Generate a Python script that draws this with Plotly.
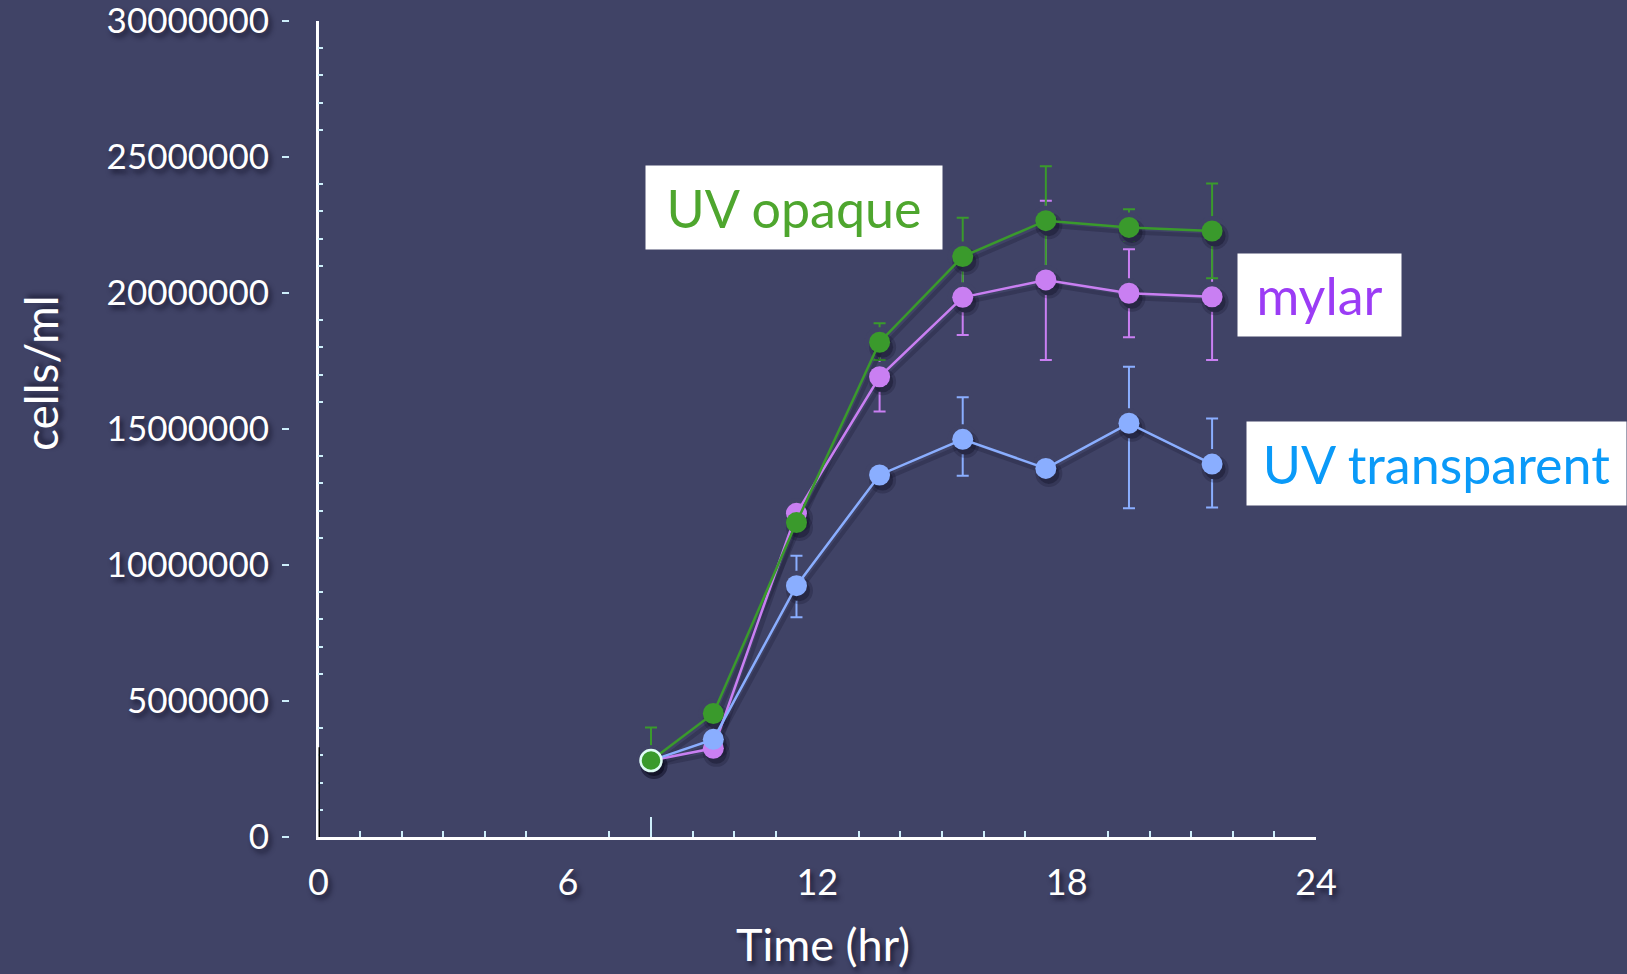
import plotly.graph_objects as go

# ---- data ----
time_hr = [8, 9.5, 11.5, 13.5, 15.5, 17.5, 19.5, 21.5]

uv_opaque = [2.81e6, 4.54e6, 11.56e6, 18.19e6, 21.34e6, 22.66e6, 22.41e6, 22.28e6]
uv_opaque_err_plus = [1.22e6, 0, 0, 0.70e6, 1.43e6, 2.0e6, 0.67e6, 1.75e6]
uv_opaque_err_minus = [0, 0, 0, 0.65e6, 1.43e6, 2.0e6, 0.50e6, 1.74e6]

mylar = [2.81e6, 3.26e6, 11.90e6, 16.92e6, 19.84e6, 20.48e6, 19.99e6, 19.86e6]
mylar_err_plus = [0, 0, 0, 1.28e6, 1.38e6, 2.91e6, 1.62e6, 2.32e6]
mylar_err_minus = [0, 0, 0, 1.28e6, 1.38e6, 2.94e6, 1.62e6, 2.32e6]

uv_transparent = [2.81e6, 3.59e6, 9.24e6, 13.31e6, 14.62e6, 13.55e6, 15.21e6, 13.71e6]
uv_transparent_err_plus = [0, 0, 1.10e6, 0, 1.55e6, 0, 2.08e6, 1.68e6]
uv_transparent_err_minus = [0, 0, 1.16e6, 0, 1.34e6, 0, 3.12e6, 1.60e6]

x_major_ticks = [0, 6, 12, 18, 24]
x_minor_ticks = [1, 2, 3, 4, 5, 7, 9, 10, 11, 13, 14, 15, 16, 17, 19, 20, 21, 22, 23]
x_long_tick = [8]
y_major_ticks = [0, 5e6, 10e6, 15e6, 20e6, 25e6, 30e6]
y_major_labels = ["0", "5000000", "10000000", "15000000", "20000000", "25000000", "30000000"]
y_minor_ticks = [v * 1e6 for v in range(1, 30) if v % 5 != 0]
y_black_segment_top = 3.3e6

X_RANGE = [0, 24]
Y_RANGE = [0, 30e6]

# ---- style ----
BG = "#404366"
GREEN = "#3a9a2c"
PURPLE = "#c97ff2"
BLUE = "#8aaeff"
TICK = "#cdeefa"
FONT = "Lato"
TEXT_SHADOW = "3px 4px 5px rgba(18,18,40,0.75)"

W, H = 1627, 974
ML, MR, MT, MB = 0, 311, 21, 137
PW = W - ML - MR
PH = H - MT - MB
AX_LEFT = 318.5
PLOT_W = W - MR - AX_LEFT

# drop shadow offset in pixels (right, down)
SH_DX, SH_DY = 3, 5
dx_u = SH_DX * (X_RANGE[1] - X_RANGE[0]) / PLOT_W
dy_u = SH_DY * (Y_RANGE[1] - Y_RANGE[0]) / PH


def px(xp):
    return (xp - ML) / PW


def py(yp):
    return (H - MB - yp) / PH


series = [
    ("mylar", mylar, mylar_err_plus, mylar_err_minus, PURPLE, None),
    ("UV transparent", uv_transparent, uv_transparent_err_plus, uv_transparent_err_minus, BLUE, None),
    ("UV opaque", uv_opaque, uv_opaque_err_plus, uv_opaque_err_minus, GREEN, "#dffcf5"),
]

fig = go.Figure()

# base subplot (x, y): error bars, then background-coloured halos that open a gap round each dot
for name, y, ep, em, color, _ in series:
    fig.add_trace(go.Scatter(
        x=time_hr, y=y, mode="markers", xaxis="x", yaxis="y",
        marker=dict(size=4, color="rgba(0,0,0,0)"),
        error_y=dict(type="data", symmetric=False, array=ep, arrayminus=em,
                     color=color, thickness=2, width=6),
        showlegend=False, hoverinfo="skip",
    ))
for name, y, ep, em, color, _ in series:
    fig.add_trace(go.Scatter(
        x=time_hr, y=y, mode="markers", xaxis="x", yaxis="y",
        marker=dict(size=30, color=BG),
        showlegend=False, hoverinfo="skip",
    ))

# shadow subplot (x2, y2): same data on axes shifted by a few pixels
for name, y, ep, em, color, _ in series:
    fig.add_trace(go.Scatter(
        x=time_hr, y=y, mode="lines+markers", xaxis="x2", yaxis="y2",
        line=dict(color="rgba(15,15,35,0.22)", width=4),
        marker=dict(size=27, color="rgba(15,15,35,0.22)"),
        showlegend=False, hoverinfo="skip",
    ))
    fig.add_trace(go.Scatter(
        x=time_hr, y=y, mode="markers", xaxis="x2", yaxis="y2",
        marker=dict(size=21, color="rgba(15,15,35,0.35)"),
        showlegend=False, hoverinfo="skip",
    ))

# main subplot (x3, y3): lines and dots
for name, y, ep, em, color, outline in series:
    line_colors = ["rgba(0,0,0,0)"] * len(y)
    line_widths = [0] * len(y)
    if outline:
        line_colors[0] = outline
        line_widths[0] = 2.5
    fig.add_trace(go.Scatter(
        x=time_hr, y=y, name=name, mode="lines+markers", xaxis="x3", yaxis="y3",
        line=dict(color=color, width=2.5),
        marker=dict(size=21, color=color, line=dict(color=line_colors, width=line_widths)),
        showlegend=False,
    ))

# empty helper traces so that the tick-only overlay axes get drawn
for xa, ya in [("x4", "y3"), ("x5", "y3"), ("x3", "y4")]:
    fig.add_trace(go.Scatter(x=[None], y=[None], xaxis=xa, yaxis=ya, mode="markers",
                             showlegend=False, hoverinfo="skip"))

x_dom = [px(AX_LEFT), 1]
hidden = dict(visible=False, showgrid=False, zeroline=False, automargin=False)

fig.update_layout(
    width=W, height=H,
    margin=dict(l=ML, r=MR, t=MT, b=MB),
    paper_bgcolor=BG, plot_bgcolor=BG,
    font=dict(family=FONT, color="white"),
    xaxis=dict(domain=x_dom, range=X_RANGE, anchor="y", **hidden),
    yaxis=dict(range=Y_RANGE, anchor="x", **hidden),
    xaxis2=dict(domain=x_dom, range=[X_RANGE[0] - dx_u, X_RANGE[1] - dx_u],
                overlaying="x", anchor="y2", **hidden),
    yaxis2=dict(range=[Y_RANGE[0] + dy_u, Y_RANGE[1] + dy_u],
                overlaying="y", anchor="x2", **hidden),
    xaxis3=dict(
        domain=x_dom, range=X_RANGE, overlaying="x", anchor="y3",
        tickvals=x_major_ticks, ticktext=[str(v) for v in x_major_ticks],
        ticks="outside", ticklen=12, tickcolor="rgba(0,0,0,0)",
        tickfont=dict(size=36, color="white", family=FONT, shadow=TEXT_SHADOW),
        showline=True, linecolor="white", linewidth=3,
        showgrid=False, zeroline=False, automargin=False,
    ),
    yaxis3=dict(
        range=Y_RANGE, overlaying="y", anchor="free", position=px(289),
        tickvals=y_major_ticks, ticktext=y_major_labels,
        ticks="outside", ticklen=7, tickwidth=2, tickcolor=TICK,
        ticklabelstandoff=6, ticklabeloverflow="allow",
        tickfont=dict(size=35, color="white", family=FONT, shadow=TEXT_SHADOW),
        showline=False, showgrid=False, zeroline=False, automargin=False,
    ),
    xaxis4=dict(
        domain=x_dom, range=X_RANGE, overlaying="x", anchor="y3",
        tickvals=x_minor_ticks, ticks="inside", ticklen=6, tickwidth=2, tickcolor=TICK,
        showticklabels=False, showline=False, showgrid=False, zeroline=False, automargin=False,
    ),
    xaxis5=dict(
        domain=x_dom, range=X_RANGE, overlaying="x", anchor="y3",
        tickvals=x_long_tick, ticks="inside", ticklen=20, tickwidth=2, tickcolor=TICK,
        showticklabels=False, showline=False, showgrid=False, zeroline=False, automargin=False,
    ),
    yaxis4=dict(
        range=Y_RANGE, overlaying="y", anchor="x3",
        tickvals=y_minor_ticks, ticks="inside", ticklen=5, tickwidth=2, tickcolor=TICK,
        showticklabels=False, showline=True, linecolor="white", linewidth=2.5,
        showgrid=False, zeroline=False, automargin=False,
    ),
)

fig.add_shape(type="line", xref="x3", yref="y3", x0=0, x1=0, y0=0, y1=y_black_segment_top,
              line=dict(color="black", width=3), layer="above")

# axis titles
fig.add_annotation(text="Time (hr)", xref="paper", yref="paper", x=px(823), y=py(944),
                   showarrow=False, font=dict(size=45, color="white", family=FONT, shadow=TEXT_SHADOW),
                   xanchor="center", yanchor="middle")
fig.add_annotation(text="cells/ml", xref="paper", yref="paper", x=px(40), y=py(373),
                   showarrow=False, textangle=-90,
                   font=dict(size=46, color="white", family=FONT, shadow=TEXT_SHADOW),
                   xanchor="center", yanchor="middle")

# series labels in white boxes
labels = [
    ("UV opaque", "#4ea62e", 646, 942, 166, 249),
    ("mylar", "#9b3cf5", 1238, 1401, 254, 336),
    ("UV transparent", "#0a9af8", 1247, 1626, 422, 505),
]
for text, color, x0, x1, y0, y1 in labels:
    fig.add_annotation(text=text, xref="paper", yref="paper",
                       x=px((x0 + x1) / 2), y=py((y0 + y1) / 2),
                       xanchor="center", yanchor="middle", showarrow=False,
                       width=x1 - x0, height=y1 - y0, borderpad=0,
                       bgcolor="white", align="center", valign="middle",
                       font=dict(size=52, color=color, family=FONT))

fig.write_html("out.html", config={"displayModeBar": False},
               post_script="document.body.style.margin='0';document.body.style.background='#404366';")
